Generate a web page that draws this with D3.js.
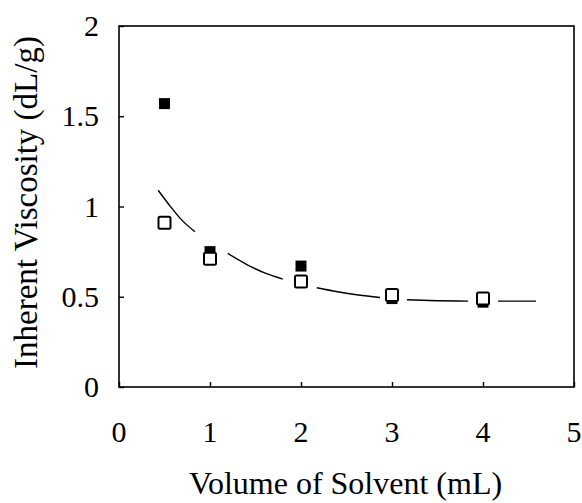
<!DOCTYPE html>
<html>
<head>
<meta charset="utf-8">
<script src="https://cdn.jsdelivr.net/npm/d3@7"></script>
<style>
  html, body { margin: 0; padding: 0; background: #fff; }
  svg { display: block; }
  text { font-family: "Liberation Serif", "Times New Roman", serif; fill: #000; }
</style>
</head>
<body>
<svg id="chart" width="582" height="503"></svg>
<script>
// ---- data ----
const volumes = [0.5, 1, 2, 3, 4];                       // mL
const filledViscosity = [1.57, 0.75, 0.67, 0.49, 0.47];  // filled squares (dL/g)
const openViscosity   = [0.91, 0.71, 0.585, 0.51, 0.49]; // open squares (dL/g)

// trend curve, drawn as broken segments
const curveSegments = [
  [[0.43, 1.09], [0.55, 1.01], [0.68, 0.93], [0.835, 0.86]],
  [[1.195, 0.74], [1.4, 0.68], [1.6, 0.632], [1.8, 0.598]],
  [[2.173, 0.55], [2.4, 0.528], [2.63, 0.51], [2.868, 0.496]],
  [[3.165, 0.483], [3.5, 0.478], [3.835, 0.476]],
  [[4.165, 0.476], [4.582, 0.476]]
];

const xTicks = [0, 1, 2, 3, 4, 5];
const yTicks = [0, 0.5, 1, 1.5, 2];
const xTitle = "Volume of Solvent (mL)";
const yTitle = "Inherent Viscosity (dL/g)";

// ---- layout ----
const svg = d3.select("#chart");
const L = 119, R = 574, T = 26, B = 387;

const x = d3.scaleLinear().domain([0, 5]).range([L, R]);
const y = d3.scaleLinear().domain([0, 2]).range([B, T]);

// frame
svg.append("rect")
  .attr("x", L).attr("y", T).attr("width", R - L).attr("height", B - T)
  .attr("fill", "none").attr("stroke", "#000").attr("stroke-width", 1.6);

// axes with inward ticks
const xAxis = d3.axisBottom(x).tickValues(xTicks).tickSize(-5).tickPadding(0).tickFormat(d3.format("d"));
const gx = svg.append("g").attr("transform", `translate(0,${B})`).call(xAxis);
gx.select(".domain").remove();
gx.selectAll(".tick line").attr("stroke", "#000").attr("stroke-width", 1.4);
gx.selectAll(".tick text").remove();

const yAxis = d3.axisLeft(y).tickValues(yTicks).tickSize(-5).tickPadding(0);
const gy = svg.append("g").attr("transform", `translate(${L},0)`).call(yAxis);
gy.select(".domain").remove();
gy.selectAll(".tick line").attr("stroke", "#000").attr("stroke-width", 1.4);
gy.selectAll(".tick text").remove();

// tick labels
svg.append("g").selectAll("text").data(xTicks).join("text")
  .attr("x", d => x(d)).attr("y", 442)
  .attr("text-anchor", "middle").attr("font-size", 30)
  .text(d => d);

svg.append("g").selectAll("text").data(yTicks).join("text")
  .attr("x", 99).attr("y", d => y(d)).attr("dy", "0.34em")
  .attr("text-anchor", "end").attr("font-size", 30)
  .text(d => String(d));

// axis titles
svg.append("text")
  .attr("x", (L + R) / 2 - 1).attr("y", 494)
  .attr("text-anchor", "middle").attr("font-size", 32)
  .text(xTitle);

svg.append("text")
  .attr("transform", `translate(37,${(T + B) / 2 - 4}) rotate(-90)`)
  .attr("text-anchor", "middle").attr("font-size", 33)
  .text(yTitle);

// trend curve
const line = d3.line().x(d => x(d[0])).y(d => y(d[1])).curve(d3.curveMonotoneX);
svg.append("g").selectAll("path").data(curveSegments).join("path")
  .attr("d", line)
  .attr("fill", "none").attr("stroke", "#000").attr("stroke-width", 1.4);

// filled squares
const fs = 11;
svg.append("g").selectAll("rect").data(volumes.map((v, i) => [v, filledViscosity[i]])).join("rect")
  .attr("x", d => x(d[0]) - fs / 2).attr("y", d => y(d[1]) - fs / 2)
  .attr("width", fs).attr("height", fs)
  .attr("fill", "#000");

// open squares
const os = 12;
svg.append("g").selectAll("rect").data(volumes.map((v, i) => [v, openViscosity[i]])).join("rect")
  .attr("x", d => x(d[0]) - os / 2).attr("y", d => y(d[1]) - os / 2)
  .attr("width", os).attr("height", os)
  .attr("rx", 1.5)
  .attr("fill", "#fff").attr("stroke", "#000").attr("stroke-width", 2);
</script>
</body>
</html>
